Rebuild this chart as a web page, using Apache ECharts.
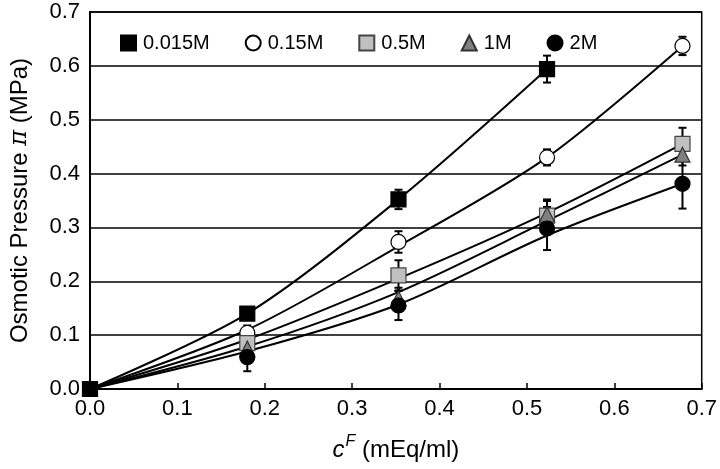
<!DOCTYPE html>
<html><head><meta charset="utf-8">
<script src="https://cdn.jsdelivr.net/npm/echarts@6/dist/echarts.min.js"></script>
<style>html,body{margin:0;padding:0;background:#fff}#c{width:720px;height:469px}</style>
</head><body><div id="c"></div>
<script>
const seriesNames = ['0.015M', '0.15M', '0.5M', '1M', '2M'];
const xPts = [0.18, 0.353, 0.523, 0.678];
// measured values
const y015 = [0.14, 0.352, 0.594];
const y15 = [0.104, 0.273, 0.43, 0.637];
const y5 = [0.085, 0.211, 0.322, 0.455];
const y1M = [0.075, 0.168, 0.324, 0.435];
const y2M = [0.059, 0.155, 0.298, 0.381];
// error bar half-widths
const e015 = [0.005, 0.018, 0.025];
const e15 = [0.014, 0.02, 0.015, 0.017];
const e5 = [0.01, 0.028, 0.03, 0.03];
const e1M = [0.01, 0.02, 0.025, 0.02];
const e2M = [0.026, 0.027, 0.04, 0.046];
// fitted curves, at x = 0 then xPts
const fitX = [0, 0.18, 0.353, 0.523, 0.678];
const f015 = [0, 0.14, 0.352, 0.594];
const f15 = [0, 0.11, 0.265, 0.43, 0.637];
const f5 = [0, 0.092, 0.205, 0.327, 0.455];
const f1M = [0, 0.079, 0.18, 0.312, 0.435];
const f2M = [0, 0.07, 0.157, 0.285, 0.381];

const ys = [y015, y15, y5, y1M, y2M];
const es = [e015, e15, e5, e1M, e2M];
const fs = [f015, f15, f5, f1M, f2M];
const symbols = ['rect', 'circle', 'rect', 'triangle', 'circle'];
const fills = ['#000000', '#ffffff', '#c0c0c0', '#808080', '#000000'];
const borders = ['#000000', '#000000', '#444444', '#333333', '#000000'];
const FONT = 'Liberation Sans, Arial, sans-serif';

const chart = echarts.init(document.getElementById('c'));
const series = [];
fs.forEach((f, i) => {
  series.push({
    type: 'line', name: seriesNames[i] + ' fit', smooth: 0.3, showSymbol: false, silent: true,
    data: f.map((v, k) => [fitX[k], v]),
    lineStyle: {color: '#000', width: 2}, z: 2
  });
});
es.forEach((e, i) => {
  series.push({
    type: 'custom', name: seriesNames[i] + ' err', silent: true, z: 3,
    data: e.map((v, k) => [xPts[k], ys[i][k] - v, ys[i][k] + v]),
    renderItem: function (params, api) {
      const x = api.value(0);
      const p1 = api.coord([x, api.value(1)]);
      const p2 = api.coord([x, api.value(2)]);
      const w = 4;
      const st = {stroke: '#000', lineWidth: 2};
      return {type: 'group', children: [
        {type: 'line', shape: {x1: p1[0], y1: p1[1], x2: p2[0], y2: p2[1]}, style: st},
        {type: 'line', shape: {x1: p1[0] - w, y1: p1[1], x2: p1[0] + w, y2: p1[1]}, style: st},
        {type: 'line', shape: {x1: p2[0] - w, y1: p2[1], x2: p2[0] + w, y2: p2[1]}, style: st}
      ]};
    }
  });
});
ys.forEach((y, i) => {
  const data = y.map((v, k) => [xPts[k], v]);
  if (i === 0) data.unshift([0, 0]);
  series.push({
    type: 'scatter', name: seriesNames[i], symbol: symbols[i], symbolSize: 15,
    data: data,
    itemStyle: {color: fills[i], borderColor: borders[i], borderWidth: 1.2, opacity: 1},
    z: 4
  });
});

chart.setOption({
  animation: false,
  backgroundColor: '#fff',
  grid: {left: 90, right: 17, top: 12, bottom: 80, show: true, borderColor: '#000', borderWidth: 1.5},
  legend: {
    data: seriesNames, top: 28, left: 115, itemWidth: 15, itemHeight: 15, itemGap: 35,
    textStyle: {fontFamily: FONT, fontSize: 20, color: '#000', padding: [0, 0, 0, 2]},
    selectedMode: false
  },
  xAxis: {
    type: 'value', min: 0, max: 0.7, interval: 0.1,
    axisLine: {lineStyle: {color: '#000', width: 2}},
    axisTick: {inside: true, length: 6, lineStyle: {color: '#000', width: 1.5}},
    axisLabel: {fontFamily: FONT, fontSize: 22, color: '#000', margin: 9,
      formatter: v => (Math.round(v * 10) / 10).toFixed(1)},
    splitLine: {show: false},
    name: '{c|c}{sup|F}{n| (mEq/ml)}', nameLocation: 'middle', nameGap: 45,
    nameTextStyle: {fontFamily: FONT, fontSize: 24, color: '#000',
      rich: {
        c: {fontFamily: FONT, fontSize: 24, fontStyle: 'italic', color: '#000', verticalAlign: 'bottom'},
        sup: {fontFamily: FONT, fontSize: 16, fontStyle: 'italic', color: '#000', verticalAlign: 'top', padding: [0, 0, 12, 1]},
        n: {fontFamily: FONT, fontSize: 24, color: '#000', verticalAlign: 'bottom'}
      }}
  },
  yAxis: {
    type: 'value', min: 0, max: 0.7, interval: 0.1,
    axisLine: {show: true, lineStyle: {color: '#000', width: 2}},
    axisTick: {show: false},
    axisLabel: {fontFamily: FONT, fontSize: 22, color: '#000', margin: 10,
      formatter: v => (Math.round(v * 10) / 10).toFixed(1)},
    splitLine: {show: true, lineStyle: {color: '#000', width: 1.5}},
    name: '{n|Osmotic Pressure }{p|π}{n| (MPa)}', nameLocation: 'middle', nameGap: 58,
    nameTextStyle: {fontFamily: FONT, fontSize: 24, color: '#000',
      rich: {
        n: {fontFamily: FONT, fontSize: 24, color: '#000'},
        p: {fontFamily: 'DejaVu Serif, serif', fontSize: 24, fontStyle: 'italic', color: '#000'}
      }}
  },
  series: series
});
</script>
</body></html>
